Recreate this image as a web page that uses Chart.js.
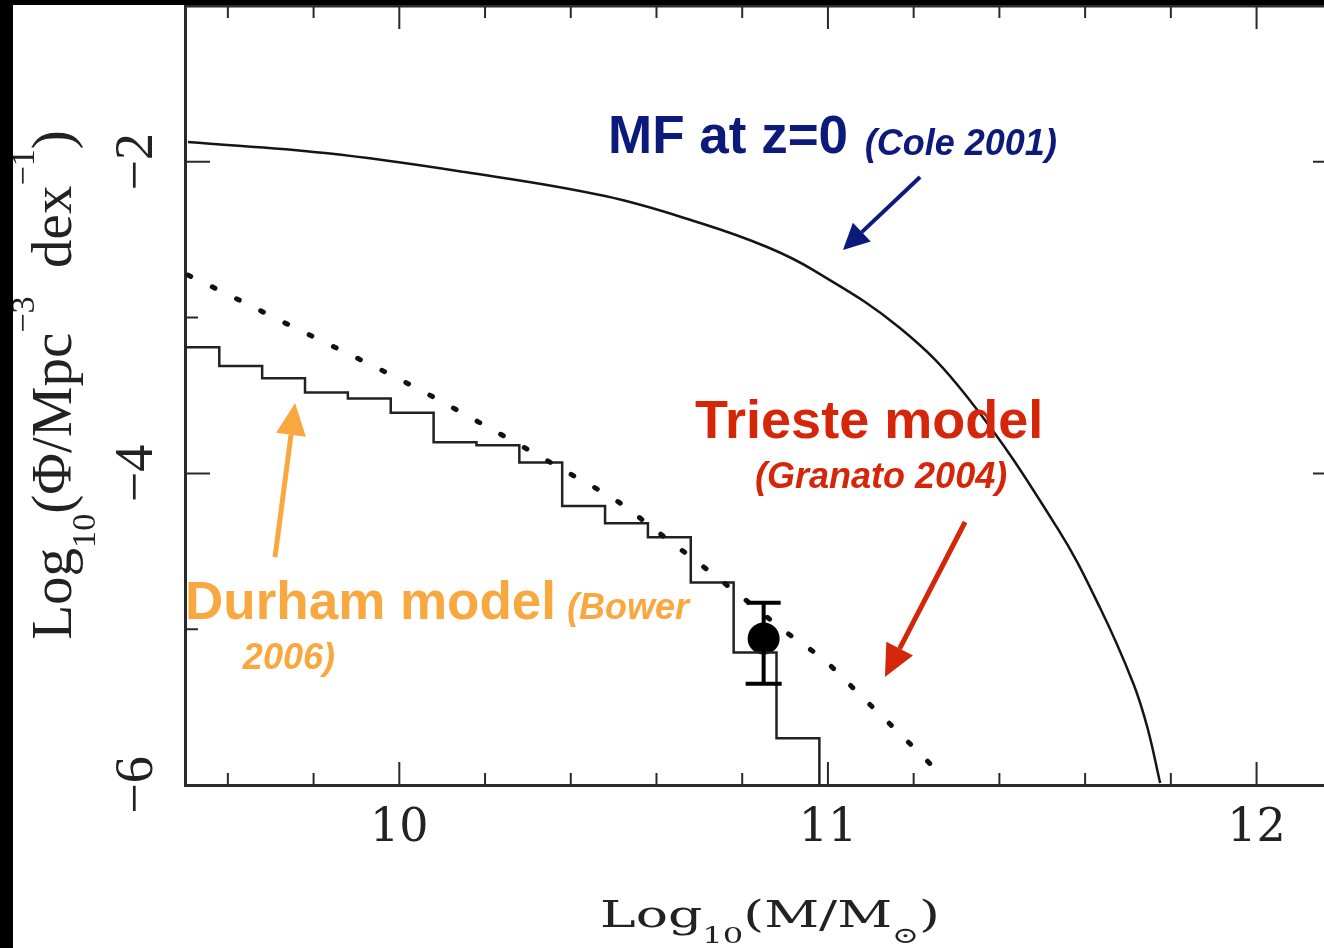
<!DOCTYPE html>
<html>
<head>
<meta charset="utf-8">
<script src="https://cdn.jsdelivr.net/npm/chart.js@4.4.1/dist/chart.umd.min.js"></script>
<style>
  html, body { margin: 0; padding: 0; background: #000; overflow: hidden; width: 1324px; height: 948px; }
  #wrap { position: absolute; left: 13px; top: 5px; width: 1360px; height: 943px; background: #fff; }
</style>
</head>
<body>
<div id="wrap"><canvas id="mf" width="1360" height="943"></canvas></div>
<script>
// local stellar mass function, Cole et al. 2001 (solid curve)
var mfMass   = [9.507, 9.827, 10.153, 10.48, 10.702, 10.858, 10.965, 11.168, 11.325, 11.535, 11.635, 11.712, 11.745, 11.775];
var mfLogPhi = [-1.873, -1.944, -2.066, -2.22, -2.393, -2.547, -2.694, -3.067, -3.51, -4.35, -4.864, -5.345, -5.628, -5.987];

// Trieste model, Granato 2004 (dotted)
var trMass   = [9.507, 9.621, 9.733, 9.848, 9.962, 10.074, 10.184, 10.293, 10.403, 10.511, 10.606, 10.707, 10.802, 10.896, 10.996, 11.082, 11.166, 11.253];
var trLogPhi = [-2.727, -2.88, -3.034, -3.188, -3.342, -3.502, -3.669, -3.836, -4.01, -4.183, -4.382, -4.594, -4.799, -5.005, -5.21, -5.441, -5.666, -5.904];

// Durham model, Bower 2006 (histogram): bin edges and one value per bin
var durEdges  = [9.48, 9.58, 9.68, 9.78, 9.88, 9.98, 10.08, 10.18, 10.28, 10.38, 10.48, 10.58, 10.68, 10.78, 10.88, 10.98, 11.08];
var durLogPhi = [-3.10, -3.19, -3.31, -3.39, -3.48, -3.52, -3.61, -3.80, -3.82, -3.93, -4.21, -4.32, -4.41, -4.70, -5.15, -5.70];

// observed point with error bar
var obsMass = [10.85];
var obsLogPhi = [-5.06];
var obsErrUp = [0.23];
var obsErrDown = [0.29];

// tick labels
var xTickLabels = [10, 11, 12];
var yTickLabels = [-2, -4, -6];

function pts(xs, ys) {
  var out = [];
  for (var i = 0; i < xs.length; i++) out.push({x: xs[i], y: ys[i]});
  return out;
}

// histogram -> stepped points, last one drops through the axis
var durPts = [];
for (var i = 0; i < durLogPhi.length; i++) durPts.push({x: durEdges[i], y: durLogPhi[i]});
durPts.push({x: durEdges[durEdges.length - 1], y: -6.5});

var NAVY = '#0c1a7c', RED = '#d6260a', ORANGE = '#f9a840';

function drawRich(ctx, parts, family, size, draw) {
  var cx = 0;
  for (var i = 0; i < parts.length; i++) {
    var mode = parts[i][1];
    var s = mode ? size * 0.6 : size;
    var dy = mode === 1 ? size * 0.42 : (mode === 2 ? -size * 0.65 : 0);
    ctx.font = s + 'px "' + family + '"';
    if (draw) ctx.fillText(parts[i][0], cx, dy);
    cx += ctx.measureText(parts[i][0]).width;
  }
  return cx;
}

function arrow(ctx, x1, y1, x2, y2, color, lw, hl, hw) {
  var ang = Math.atan2(y2 - y1, x2 - x1);
  var bx = x2 - hl * Math.cos(ang), by = y2 - hl * Math.sin(ang);
  ctx.strokeStyle = color;
  ctx.fillStyle = color;
  ctx.lineWidth = lw;
  ctx.beginPath();
  ctx.moveTo(x1, y1);
  ctx.lineTo(bx, by);
  ctx.stroke();
  ctx.beginPath();
  ctx.moveTo(x2, y2);
  ctx.lineTo(bx + hw / 2 * Math.sin(ang), by - hw / 2 * Math.cos(ang));
  ctx.lineTo(bx - hw / 2 * Math.sin(ang), by + hw / 2 * Math.cos(ang));
  ctx.closePath();
  ctx.fill();
}

var framePlugin = {
  id: 'frame',
  afterDatasetsDraw: function(chart) {
    var ctx = chart.ctx, a = chart.chartArea;
    var xs = chart.scales.x, ys = chart.scales.y;
    function P(xv, yv) { return [xs.getPixelForValue(xv), ys.getPixelForValue(yv)]; }
    ctx.save();

    // inward ticks on all four sides
    ctx.strokeStyle = '#2a2a2a';
    ctx.lineWidth = 2;
    xs.ticks.forEach(function(t) {
      var v = t.value;
      if (Math.abs(v * 5 - Math.round(v * 5)) > 1e-6) return;
      var len = Math.abs(v - Math.round(v)) < 1e-6 ? 23 : 12;
      var px = xs.getPixelForValue(v);
      ctx.beginPath();
      ctx.moveTo(px, a.bottom); ctx.lineTo(px, a.bottom - len);
      ctx.moveTo(px, a.top); ctx.lineTo(px, a.top + len);
      ctx.stroke();
    });
    ys.ticks.forEach(function(t) {
      var v = t.value;
      var len = Math.round(v) % 2 === 0 ? 25 : 13;
      var py = ys.getPixelForValue(v);
      ctx.beginPath();
      ctx.moveTo(a.left, py); ctx.lineTo(a.left + len, py);
      ctx.moveTo(a.right, py); ctx.lineTo(a.right - len, py);
      ctx.stroke();
    });
    ctx.lineWidth = 3;
    ctx.beginPath();
    ctx.moveTo(a.left, a.top); ctx.lineTo(a.right, a.top);
    ctx.stroke();

    // error bar on the observed point
    ctx.strokeStyle = '#000';
    ctx.lineWidth = 4;
    for (var i = 0; i < obsMass.length; i++) {
      var px = xs.getPixelForValue(obsMass[i]);
      var top = ys.getPixelForValue(obsLogPhi[i] + obsErrUp[i]);
      var bot = ys.getPixelForValue(obsLogPhi[i] - obsErrDown[i]);
      ctx.beginPath();
      ctx.moveTo(px, top); ctx.lineTo(px, bot);
      ctx.moveTo(px - 17, top); ctx.lineTo(px + 17, top);
      ctx.moveTo(px - 18, bot); ctx.lineTo(px + 18, bot);
      ctx.stroke();
    }

    // rotated y tick labels
    ctx.fillStyle = '#222';
    ctx.font = '54px "Liberation Serif"';
    ctx.textAlign = 'center';
    ctx.textBaseline = 'alphabetic';
    yTickLabels.forEach(function(v) {
      ctx.save();
      ctx.translate(a.left - 33, ys.getPixelForValue(v));
      ctx.rotate(-Math.PI / 2);
      ctx.fillText(String(v).replace('-', '\u2212'), 0, 0);
      ctx.restore();
    });

    // axis titles
    ctx.textAlign = 'left';
    var yParts = [['Log', 0], ['10', 1], ['(\u03a6/Mpc', 0], ['\u22123', 2], ['  dex', 0], ['\u22121', 2], [')', 0]];
    var w = drawRich(ctx, yParts, 'Liberation Serif', 57, false);
    ctx.save();
    ctx.translate(a.left - 114, a.top + 379);
    ctx.rotate(-Math.PI / 2);
    ctx.translate(-w / 2, 0);
    drawRich(ctx, yParts, 'Liberation Serif', 57, true);
    ctx.restore();

    var xParts = [['Log', 0], ['10', 1], ['(M/M', 0], ['\u2299', 1], [')', 0]];
    var wx = drawRich(ctx, xParts, 'DejaVu Serif', 38, false);
    ctx.save();
    ctx.translate(a.left + 585, a.bottom + 142);
    ctx.scale(340 / wx, 1);
    ctx.translate(-wx / 2, 0);
    drawRich(ctx, xParts, 'DejaVu Serif', 38, true);
    ctx.restore();

    // annotations
    var p;
    ctx.fillStyle = NAVY;
    ctx.font = 'bold 53px "Liberation Sans"';
    p = P(10.487, -1.943); ctx.fillText('MF at z=0', p[0], p[1]);
    ctx.font = 'italic bold 36px "Liberation Sans"';
    p = P(11.086, -1.956); ctx.fillText('(Cole 2001)', p[0], p[1]);
    var t1 = P(11.215, -2.098), t2 = P(11.035, -2.566);
    arrow(ctx, t1[0], t1[1], t2[0], t2[1], NAVY, 4, 26, 26);

    ctx.fillStyle = RED;
    ctx.font = 'bold 54px "Liberation Sans"';
    p = P(10.690, -3.773); ctx.fillText('Trieste model', p[0], p[1]);
    ctx.font = 'italic bold 36px "Liberation Sans"';
    p = P(10.830, -4.094); ctx.fillText('(Granato 2004)', p[0], p[1]);
    t1 = P(11.320, -4.312); t2 = P(11.133, -5.307);
    arrow(ctx, t1[0], t1[1], t2[0], t2[1], RED, 5, 32, 30);

    ctx.fillStyle = ORANGE;
    ctx.font = 'bold 53px "Liberation Sans"';
    p = P(9.5, -4.935); ctx.fillText('Durham model', p[0], p[1]);
    ctx.font = 'italic bold 36px "Liberation Sans"';
    p = P(10.391, -4.935); ctx.fillText('(Bower', p[0], p[1]);
    p = P(9.635, -5.255); ctx.fillText('2006)', p[0], p[1]);
    t1 = P(9.710, -4.537); t2 = P(9.757, -3.548);
    arrow(ctx, t1[0], t1[1], t2[0], t2[1], ORANGE, 5, 32, 30);

    ctx.restore();
  }
};

new Chart(document.getElementById('mf'), {
  type: 'line',
  data: {
    datasets: [
      {
        label: 'MF at z=0 (Cole 2001)',
        data: pts(mfMass, mfLogPhi),
        borderColor: '#151515',
        borderWidth: 2.5,
        pointRadius: 0,
        tension: 0.4
      },
      {
        label: 'Trieste model (Granato 2004)',
        data: pts(trMass, trLogPhi),
        borderColor: '#111',
        borderWidth: 5,
        borderDash: [3, 24],
        borderCapStyle: 'round',
        pointRadius: 0,
        cubicInterpolationMode: 'monotone'
      },
      {
        label: 'Durham model (Bower 2006)',
        data: durPts,
        stepped: 'after',
        borderColor: '#222',
        borderWidth: 2.5,
        pointRadius: 0
      },
      {
        label: 'data',
        data: pts(obsMass, obsLogPhi),
        showLine: false,
        pointRadius: 16,
        pointBackgroundColor: '#000',
        pointBorderWidth: 0
      }
    ]
  },
  options: {
    responsive: false,
    animation: false,
    layout: { autoPadding: false, padding: { top: 1, right: 35, left: 0, bottom: 0 } },
    plugins: { legend: { display: false }, tooltip: { enabled: false } },
    scales: {
      x: {
        type: 'linear',
        min: 9.5,
        max: 12.19,
        ticks: {
          stepSize: 0.2,
          includeBounds: false,
          autoSkip: false,
          maxRotation: 0,
          minRotation: 0,
          padding: 16,
          color: '#222',
          font: { family: 'DejaVu Serif', size: 46 },
          callback: function(v) {
            var r = Math.round(v);
            return (Math.abs(v - r) < 1e-6 && xTickLabels.indexOf(r) >= 0) ? String(r) : '';
          }
        },
        grid: { display: false, drawTicks: false },
        border: { display: true, color: '#2a2a2a', width: 3 },
        afterFit: function(s) { s.height = 163; }
      },
      y: {
        type: 'linear',
        min: -6,
        max: -1,
        ticks: { stepSize: 1, display: false },
        grid: { display: false, drawTicks: false },
        border: { display: true, color: '#2a2a2a', width: 3 },
        afterFit: function(s) { s.width = 172; }
      }
    }
  },
  plugins: [framePlugin]
});
</script>
</body>
</html>
